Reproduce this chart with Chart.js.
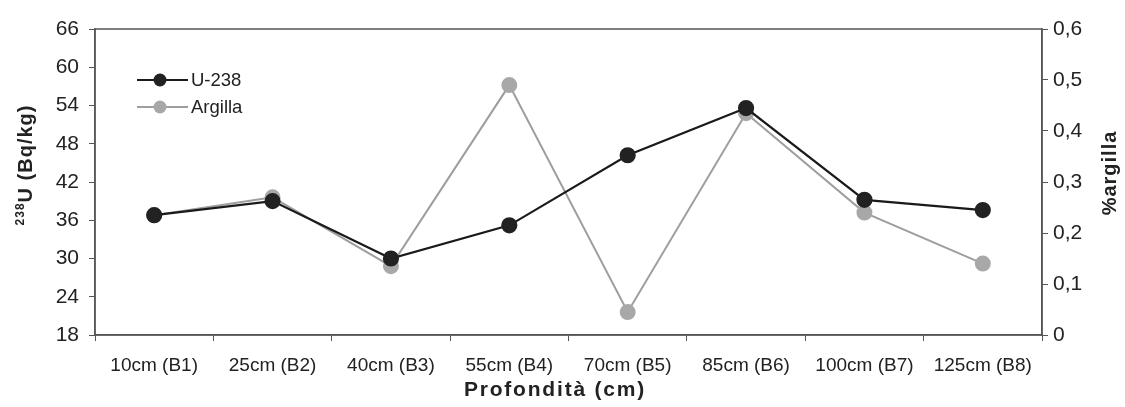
<!DOCTYPE html>
<html>
<head>
<meta charset="utf-8">
<script src="https://cdn.jsdelivr.net/npm/chart.js@4"></script>
<style>
  body { margin: 0; background: #fff; }
  #wrap { width: 1125px; height: 407px; }
</style>
</head>
<body>
<div id="wrap"><canvas id="grafico"></canvas></div>
<script>
const categorie = ["10cm (B1)", "25cm (B2)", "40cm (B3)", "55cm (B4)", "70cm (B5)", "85cm (B6)", "100cm (B7)", "125cm (B8)"];
const u238 = [36.8, 39, 30, 35.2, 46.2, 53.6, 39.2, 37.6];
const argilla = [0.235, 0.27, 0.135, 0.49, 0.045, 0.435, 0.24, 0.14];
const tickSinistra = [18, 24, 30, 36, 42, 48, 54, 60, 66];
const tickDestra = [0, 0.1, 0.2, 0.3, 0.4, 0.5, 0.6];

const FONT = "'Liberation Sans', Arial, sans-serif";
const TESTO = "#222";
const ASSE = "#555";

const cornice = {
  id: "cornice",
  afterDraw(chart) {
    const ctx = chart.ctx;
    const a = chart.chartArea;
    ctx.save();
    ctx.strokeStyle = ASSE;
    ctx.lineWidth = 1.5;
    ctx.strokeRect(a.left, a.top, a.right - a.left, a.bottom - a.top);

    // legenda dentro l'area del grafico
    chart.data.datasets.forEach((ds, i) => {
      const y = 80 + i * 27;
      ctx.strokeStyle = ds.borderColor;
      ctx.lineWidth = ds.borderWidth;
      ctx.beginPath();
      ctx.moveTo(137, y);
      ctx.lineTo(188, y);
      ctx.stroke();
      ctx.fillStyle = ds.pointBackgroundColor;
      ctx.beginPath();
      ctx.arc(160, y, 6.5, 0, Math.PI * 2);
      ctx.fill();
      ctx.fillStyle = TESTO;
      ctx.font = "18.5px " + FONT;
      ctx.textAlign = "left";
      ctx.textBaseline = "middle";
      ctx.fillText(ds.label, 191, y + 1);
    });

    ctx.fillStyle = TESTO;

    // titolo asse x
    ctx.letterSpacing = "1.8px";
    ctx.font = "bold 21px " + FONT;
    ctx.textAlign = "center";
    ctx.textBaseline = "middle";
    ctx.fillText("Profondità (cm)", 555, 390);
    ctx.letterSpacing = "1px";

    // titolo asse sinistro: 238U (Bq/kg)
    ctx.textBaseline = "alphabetic";
    ctx.textAlign = "left";
    ctx.save();
    ctx.translate(32, 165);
    ctx.rotate(-Math.PI / 2);
    ctx.font = "bold 12px " + FONT;
    const w1 = ctx.measureText("238").width;
    ctx.font = "bold 20px " + FONT;
    const w2 = ctx.measureText("U (Bq/kg)").width;
    const x0 = -(w1 + w2) / 2;
    ctx.font = "bold 12px " + FONT;
    ctx.fillText("238", x0, -8);
    ctx.font = "bold 20px " + FONT;
    ctx.fillText("U (Bq/kg)", x0 + w1, 0);
    ctx.restore();

    // titolo asse destro
    ctx.save();
    ctx.translate(1116, 173);
    ctx.rotate(-Math.PI / 2);
    ctx.font = "bold 20px " + FONT;
    ctx.textAlign = "center";
    ctx.fillText("%argilla", 0, 0);
    ctx.restore();
    ctx.restore();
  }
};

new Chart(document.getElementById("grafico"), {
  type: "line",
  data: {
    labels: categorie,
    datasets: [
      {
        label: "U-238",
        data: u238,
        yAxisID: "ySin",
        borderColor: "#1a1a1a",
        backgroundColor: "#1a1a1a",
        pointBackgroundColor: "#222",
        pointBorderColor: "#222",
        borderWidth: 2.2,
        pointRadius: 7,
        tension: 0
      },
      {
        label: "Argilla",
        data: argilla,
        yAxisID: "yDes",
        borderColor: "#9e9e9e",
        backgroundColor: "#a8a8a8",
        pointBackgroundColor: "#a8a8a8",
        pointBorderColor: "#a8a8a8",
        borderWidth: 2,
        pointRadius: 7,
        tension: 0
      }
    ]
  },
  options: {
    responsive: true,
    maintainAspectRatio: false,
    animation: false,
    layout: { padding: { top: 29, left: 0, right: 0, bottom: 0 } },
    plugins: {
      legend: { display: false },
      tooltip: { enabled: false }
    },
    scales: {
      x: {
        offset: true,
        grid: { offset: true, drawOnChartArea: false, color: ASSE, tickLength: 6, tickWidth: 1 },
        border: { color: ASSE, width: 1.5 },
        ticks: { color: TESTO, font: { family: FONT, size: 19 }, padding: 13, maxRotation: 0, autoSkip: false },
        afterFit(scale) { scale.height = 72; }
      },
      ySin: {
        position: "left",
        min: 18,
        max: 66,
        afterBuildTicks(scale) { scale.ticks = tickSinistra.map(v => ({ value: v })); },
        grid: { drawOnChartArea: false, color: ASSE, tickLength: 6 },
        border: { color: ASSE, width: 1.5 },
        ticks: { color: TESTO, font: { family: FONT, size: 21 }, padding: 10 },
        afterFit(scale) { scale.width = 95; }
      },
      yDes: {
        position: "right",
        min: 0,
        max: 0.6,
        afterBuildTicks(scale) { scale.ticks = tickDestra.map(v => ({ value: v })); },
        grid: { drawOnChartArea: false, color: ASSE, tickLength: 6 },
        border: { color: ASSE, width: 1.5 },
        ticks: {
          color: TESTO,
          font: { family: FONT, size: 21 },
          padding: 5,
          callback: v => v === 0 ? "0" : v.toFixed(1).replace(".", ",")
        },
        afterFit(scale) { scale.width = 83; }
      }
    }
  },
  plugins: [cornice]
});
</script>
</body>
</html>
